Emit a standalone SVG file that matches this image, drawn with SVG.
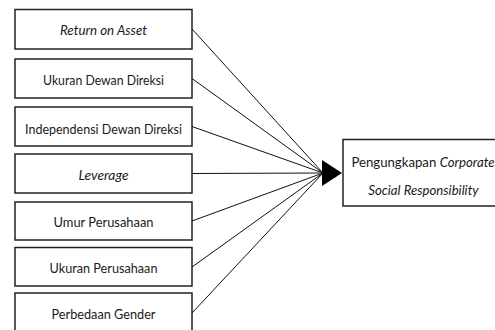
<svg xmlns="http://www.w3.org/2000/svg" width="495" height="330" viewBox="0 0 495 330">
<style>
.box{fill:#fff;stroke:#222;stroke-width:1.5}
.t{font-family:Lato,"Open Sans",sans-serif;font-size:14px;fill:#1a1a1a;text-anchor:middle}
.r{font-size:13.2px}
.i{font-style:italic}
.c line{stroke:#111;stroke-width:1}
</style>
<rect width="495" height="330" fill="#fff"/>
<g id="n1"><rect class="box" x="15" y="9.5" width="177" height="39.5"/><text class="t i" x="103.5" y="35" textLength="87" lengthAdjust="spacingAndGlyphs">Return on Asset</text></g>
<g id="n2"><rect class="box" x="15" y="59" width="177" height="39"/><text class="t" x="103.5" y="85" textLength="121" lengthAdjust="spacingAndGlyphs">Ukuran Dewan Direksi</text></g>
<g id="n3"><rect class="box" x="15" y="107" width="177" height="39"/><text class="t" x="103.5" y="133.5" textLength="157" lengthAdjust="spacingAndGlyphs">Independensi Dewan Direksi</text></g>
<g id="n4"><rect class="box" x="15" y="154" width="177" height="39"/><text class="t i" x="103.5" y="179.5" textLength="50" lengthAdjust="spacingAndGlyphs">Leverage</text></g>
<g id="n5"><rect class="box" x="15" y="202" width="177" height="38"/><text class="t" x="103.5" y="226.5" textLength="100" lengthAdjust="spacingAndGlyphs">Umur Perusahaan</text></g>
<g id="n6"><rect class="box" x="15" y="247.5" width="177" height="38.5"/><text class="t" x="103.5" y="272.5" textLength="108" lengthAdjust="spacingAndGlyphs">Ukuran Perusahaan</text></g>
<g id="n7"><rect class="box" x="15" y="293" width="177" height="40"/><text class="t" x="103.5" y="318.5" textLength="104" lengthAdjust="spacingAndGlyphs">Perbedaan Gender</text></g>
<g id="target"><rect class="box" x="343" y="139.5" width="162" height="66.5"/><text class="t r" x="423" y="166.5">Pengungkapan <tspan class="i">Corporate</tspan></text><text class="t r i" x="423.5" y="194.5">Social Responsibility</text></g>
<g class="c" id="connectors">
<line x1="192" y1="29" x2="323" y2="173"/>
<line x1="192" y1="78.5" x2="323" y2="173"/>
<line x1="192" y1="126.5" x2="323" y2="173"/>
<line x1="192" y1="173.5" x2="323" y2="173"/>
<line x1="192" y1="221" x2="323" y2="173"/>
<line x1="192" y1="267" x2="323" y2="173"/>
<line x1="192" y1="313" x2="323" y2="173"/>
<polygon points="322,160 342,173 322,186" fill="#000"/>
</g>
</svg>
